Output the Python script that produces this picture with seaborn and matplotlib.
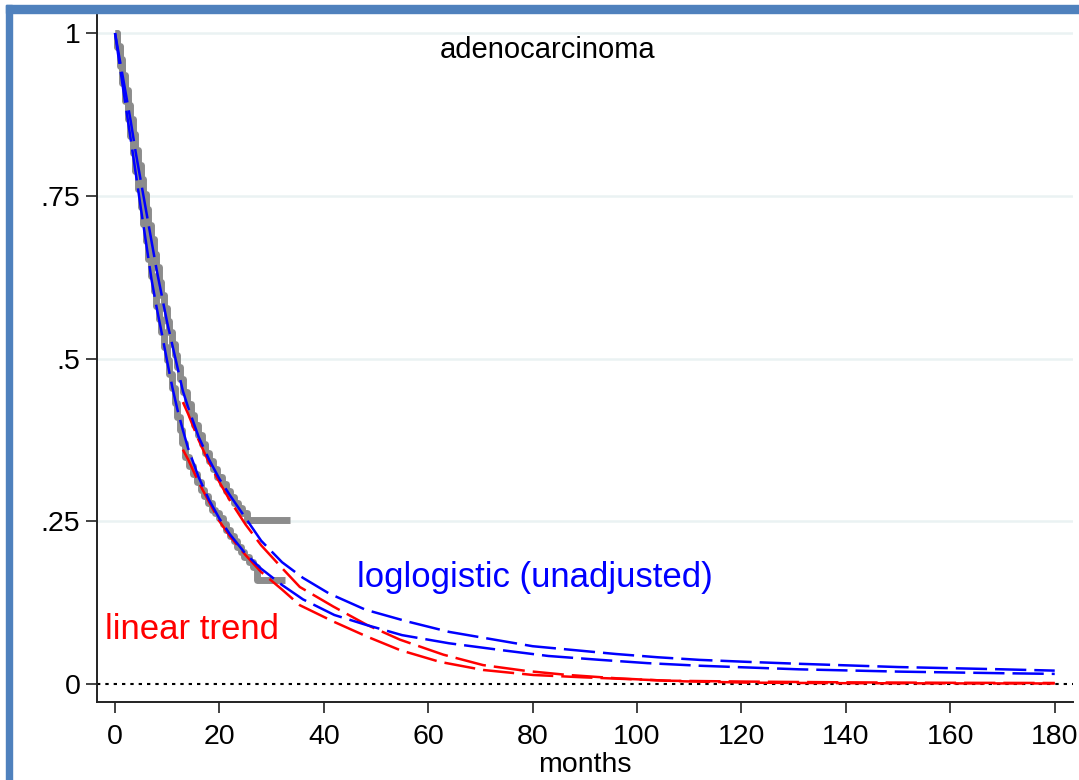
import numpy as np
import pandas as pd
import matplotlib
matplotlib.use("Agg")
import matplotlib.pyplot as plt
from matplotlib.patches import Rectangle
import seaborn as sns

# ---------------- data ----------------
# Kaplan-Meier step curves (two groups)
km_upper_t = [0, 0.4, 0.9, 1.4, 1.9, 2.4, 2.9, 3.4, 3.9, 4.4, 4.9, 5.4, 5.9, 6.4, 6.9, 7.4, 7.9,
              8.4, 8.9, 9.4, 9.9, 10.4, 10.9, 11.4, 11.9, 12.5, 13.1, 13.8, 14.5, 15.2, 15.9, 16.6,
              17.3, 18.0, 18.8, 19.6, 20.4, 21.2, 22.0, 22.8, 23.6, 24.4, 25.2, 33.5]
km_upper_s = [1.0, 0.98, 0.96, 0.935, 0.913, 0.89, 0.868, 0.845, 0.82, 0.797, 0.775, 0.752, 0.73,
              0.705, 0.684, 0.66, 0.64, 0.618, 0.598, 0.578, 0.558, 0.54, 0.522, 0.505, 0.487,
              0.468, 0.448, 0.43, 0.413, 0.398, 0.382, 0.368, 0.355, 0.343, 0.33, 0.318, 0.307,
              0.297, 0.287, 0.278, 0.27, 0.262, 0.252, 0.252]
km_lower_t = [0, 0.4, 0.9, 1.4, 1.9, 2.4, 2.9, 3.4, 3.9, 4.4, 4.9, 5.4, 5.9, 6.4, 6.9, 7.4, 7.9,
              8.4, 8.9, 9.4, 9.9, 10.4, 10.9, 11.4, 11.9, 12.4, 12.9, 13.5, 14.2, 15.0, 15.7, 16.4,
              17.1, 17.8, 18.5, 19.2, 19.9, 20.6, 21.3, 22.0, 22.7, 23.4, 24.1, 24.8, 25.6, 26.4,
              27.2, 32.6]
km_lower_s = [1.0, 0.978, 0.95, 0.923, 0.895, 0.868, 0.842, 0.815, 0.788, 0.76, 0.733, 0.706, 0.68,
              0.653, 0.626, 0.603, 0.58, 0.56, 0.54, 0.518, 0.497, 0.476, 0.455, 0.432, 0.41, 0.39,
              0.37, 0.348, 0.335, 0.322, 0.31, 0.298, 0.288, 0.278, 0.268, 0.262, 0.255, 0.245,
              0.236, 0.228, 0.219, 0.21, 0.202, 0.195, 0.188, 0.18, 0.16, 0.16]

# loglogistic (unadjusted) fitted curves
ll_upper_t = [0, 1, 2, 3, 4, 5, 6, 7, 8, 9, 10, 11, 12, 13, 14, 16, 18, 20, 22, 25, 28, 32, 36,
              41, 48, 56, 64, 72, 80, 88, 96, 104, 112, 121, 131, 150, 170, 180]
ll_upper_s = [1.0, 0.955, 0.91, 0.865, 0.815, 0.77, 0.725, 0.68, 0.635, 0.595, 0.555, 0.52, 0.485,
              0.45, 0.425, 0.38, 0.345, 0.315, 0.29, 0.255, 0.22, 0.187, 0.163, 0.139, 0.114, 0.096,
              0.080, 0.069, 0.058, 0.052, 0.046, 0.041, 0.037, 0.034, 0.031, 0.026, 0.0225, 0.0205]
ll_lower_t = [0, 1, 2, 3, 4, 5, 6, 7, 8, 9, 10, 11, 12, 13, 14, 16, 18, 20, 22, 25, 28, 32, 36,
              42, 48, 55, 64, 74, 83, 93, 102, 112, 131, 150, 170, 180]
ll_lower_s = [1.0, 0.945, 0.89, 0.837, 0.783, 0.728, 0.675, 0.621, 0.577, 0.537, 0.495, 0.455, 0.42,
              0.39, 0.362, 0.318, 0.283, 0.254, 0.23, 0.20, 0.177, 0.152, 0.13, 0.106, 0.091, 0.075,
              0.0625, 0.052, 0.043, 0.037, 0.032, 0.028, 0.0225, 0.019, 0.0165, 0.0155]

# linear trend fitted curves
lt_upper_t = [13, 14, 16, 18, 20, 22, 25, 28, 32, 35.4, 41.8, 48.2, 54.6, 62.9, 70.5, 78.8, 86.5,
              96.1, 105.6, 121.6, 140, 160, 180]
lt_upper_s = [0.433, 0.415, 0.375, 0.34, 0.31, 0.282, 0.245, 0.213, 0.178, 0.149, 0.119, 0.091,
              0.068, 0.045, 0.029, 0.020, 0.014, 0.0087, 0.005, 0.0036, 0.0025, 0.0018, 0.0015]
lt_lower_t = [13, 14, 16, 18, 20, 22, 25, 28, 32, 35.4, 41.8, 48.2, 54.6, 62.2, 70.5, 80.1, 89.7,
              99.2, 108.8, 121.6, 140, 160, 180]
lt_lower_s = [0.36, 0.345, 0.31, 0.28, 0.25, 0.227, 0.198, 0.172, 0.145, 0.121, 0.096, 0.073,
              0.052, 0.034, 0.0215, 0.0138, 0.0102, 0.0072, 0.0041, 0.002, 0.0012, 0.0009, 0.0008]

x_ticks = [0, 20, 40, 60, 80, 100, 120, 140, 160, 180]
y_ticks = [0, 0.25, 0.5, 0.75, 1]
y_tick_labels = ["0", ".25", ".5", ".75", "1"]

# ---------------- style ----------------
sns.set_theme(style="white")
plt.rcParams["font.family"] = ["Liberation Sans", "DejaVu Sans"]
plt.rcParams["text.color"] = "black"

fig = plt.figure(figsize=(10.79, 7.80), dpi=100)
fig.patch.set_facecolor("white")
ax = fig.add_axes([97 / 1079, 78 / 780, (1073 - 97) / 1079, (765 - 78) / 780])
ax.set_facecolor("white")

# frame bars (blue) at top and left of the figure
frame_col = "#4F81BD"
fig.patches.append(Rectangle((6 / 1079, 0), 6 / 1079, 775 / 780, transform=fig.transFigure,
                             color=frame_col, zorder=0))
fig.patches.append(Rectangle((6 / 1079, 767.5 / 780), 1073 / 1079, 7.5 / 780,
                             transform=fig.transFigure, color=frame_col, zorder=0))

# grid lines
for yv in y_ticks[1:]:
    ax.axhline(yv, color="#EAF2F3", lw=1.8, zorder=0)
ax.axhline(0, color="black", lw=1.5, linestyle=(0, (1.6, 2.4)), zorder=1)

grey = "#8C8C8C"
for t, s in [(km_upper_t, km_upper_s), (km_lower_t, km_lower_s)]:
    sns.lineplot(x=t, y=s, ax=ax, color=grey, lw=5, drawstyle="steps-post",
                 estimator=None, sort=False, solid_capstyle="butt", solid_joinstyle="round",
                 zorder=2)

dash = (0, (12.5, 3.2))
for t, s in [(lt_upper_t, lt_upper_s), (lt_lower_t, lt_lower_s)]:
    sns.lineplot(x=t, y=s, ax=ax, color="#FF0000", lw=1.8, linestyle=dash,
                 estimator=None, sort=False, zorder=3)
for t, s in [(ll_upper_t, ll_upper_s), (ll_lower_t, ll_lower_s)]:
    sns.lineplot(x=t, y=s, ax=ax, color="#0000FF", lw=1.8, linestyle=dash,
                 estimator=None, sort=False, zorder=4)

ax.text(82.9, 0.974, "adenocarcinoma", ha="center", va="center", fontsize=21, color="black")
ax.text(80.4, 0.164, "loglogistic (unadjusted)", ha="center", va="center", fontsize=25,
        color="#0000FF")
ax.text(14.7, 0.083, "linear trend", ha="center", va="center", fontsize=25, color="#FF0000")

ax.set_xlim(-3.45, 183.5)
ax.set_ylim(-0.0277, 1.0277)
ax.set_xticks(x_ticks)
ax.set_xticklabels([str(v) for v in x_ticks])
ax.set_yticks(y_ticks)
ax.set_yticklabels(y_tick_labels)
ax.set_xlabel("months", fontsize=20.5, labelpad=1, color="black")
ax.set_ylabel("")

for side in ["top", "right"]:
    ax.spines[side].set_visible(False)
for side in ["left", "bottom"]:
    ax.spines[side].set_color("#222222")
    ax.spines[side].set_linewidth(1.4)
ax.tick_params(axis="both", which="major", direction="out", length=8, width=1.2,
               color="#222222", labelsize=20.5, labelcolor="black", left=True, bottom=True)
ax.tick_params(axis="y", pad=4)
ax.tick_params(axis="x", pad=8)
ax.grid(False)

fig.savefig("out.png", dpi=100, facecolor="white")
